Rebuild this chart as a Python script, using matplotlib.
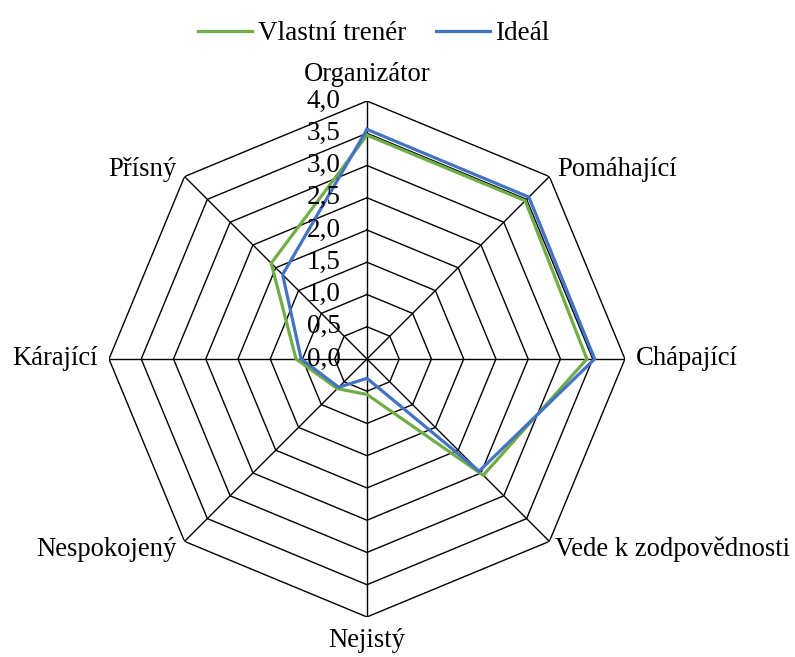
import numpy as np
import matplotlib.pyplot as plt

categories = ['Organizátor', 'Pomáhající', 'Chápající', 'Vede k zodpovědnosti',
              'Nejistý', 'Nespokojený', 'Kárající', 'Přísný']
vlastni = [3.47, 3.47, 3.41, 2.55, 0.55, 0.65, 1.1, 2.1]
idealni = [3.56, 3.55, 3.53, 2.46, 0.3, 0.62, 1.02, 1.85]
ticks = [0.0, 0.5, 1.0, 1.5, 2.0, 2.5, 3.0, 3.5, 4.0]
tick_labels = ['0,0', '0,5', '1,0', '1,5', '2,0', '2,5', '3,0', '3,5', '4,0']

plt.rcParams['font.family'] = ['Liberation Serif', 'DejaVu Serif']

n = len(categories)
theta = np.arange(n) * 2 * np.pi / n
closed = np.append(theta, theta[0])

fig = plt.figure(figsize=(7.95, 6.57), dpi=100)
ax = fig.add_axes([0.1371, 0.0609, 0.649, 0.7854], projection='polar')
ax.set_theta_offset(np.pi / 2)
ax.set_theta_direction(-1)
ax.set_ylim(0, 4)
ax.grid(False)
ax.spines['polar'].set_visible(False)
ax.set_xticks([])
ax.set_yticks([])
ax.patch.set_visible(False)

# polygon grid
for r in ticks[1:]:
    ax.plot(closed, [r] * (n + 1), color='black', lw=1, zorder=1)
for t in theta:
    ax.plot([t, t], [0, 4], color='black', lw=1, zorder=1)

ax.plot(closed, vlastni + vlastni[:1], color='#70AD47', lw=2.3, label='Vlastní trenér', zorder=3)
ax.plot(closed, idealni + idealni[:1], color='#4472C4', lw=2.3, label='Ideál', zorder=4)

# radial labels
for r, lbl in zip(ticks, tick_labels):
    ax.annotate(lbl, xy=(0, r), xytext=(-19, 0), textcoords='offset points',
                ha='right', va='center', fontsize=19.5, zorder=5)

# category labels
offsets = [(0, 19, 'center'), (6, 5, 'left'), (8, 0, 'left'), (4, -6, 'left'),
           (0, -17, 'center'), (-6, -6, 'right'), (-8, 0, 'right'), (-6, 5, 'right')]
for t, lbl, (dx, dy, ha) in zip(theta, categories, offsets):
    ax.annotate(lbl, xy=(t, 4), xytext=(dx, dy), textcoords='offset points',
                ha=ha, va='center', fontsize=19.2, annotation_clip=False)

fig.legend(loc='upper center', bbox_to_anchor=(0.47, 1.005), ncol=2, frameon=False,
           fontsize=19.5, handlelength=2.0, handletextpad=0.2, columnspacing=1.1)

fig.savefig('out.png', dpi=100)
